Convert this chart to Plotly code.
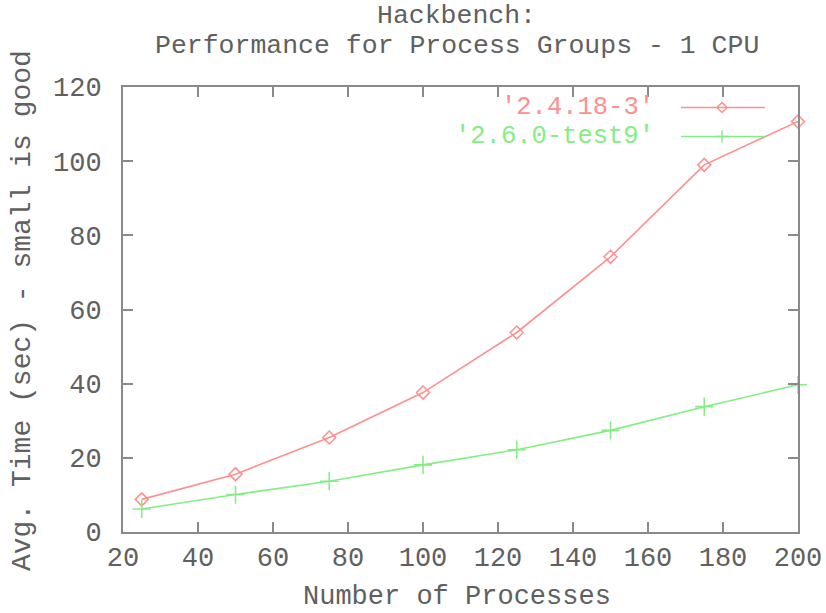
import plotly.graph_objects as go

processes = [25, 50, 75, 100, 125, 150, 175, 200]
kernel_2418 = [8.8, 15.6, 25.5, 37.6, 53.8, 74.2, 99.0, 110.7]
kernel_260 = [6.2, 10.1, 13.7, 18.1, 22.2, 27.4, 33.8, 39.7]
series_names = ["'2.4.18-3'", "'2.6.0-test9'"]
x_ticks = [20, 40, 60, 80, 100, 120, 140, 160, 180, 200]
y_ticks = [0, 20, 40, 60, 80, 100, 120]

RED = "#ff8f8f"
GREEN = "#84ee84"
GRAY = "#8a8a8a"
TXT = "#606060"
FONT = "Liberation Mono"

W, H = 826, 613
L, R, T, B = 123, 28, 87, 81
PW, PH = W - L - R, H - T - B


def px(xp):
    return (xp - L) / PW


def py(yp):
    return (H - B - yp) / PH


fig = go.Figure()
fig.add_trace(go.Scatter(
    x=processes, y=kernel_2418, mode="lines+markers", name=series_names[0],
    line=dict(color=RED, width=1.6),
    marker=dict(symbol="diamond-open", size=10, color=RED, line=dict(width=1.5, color=RED)),
    showlegend=False, cliponaxis=False))
fig.add_trace(go.Scatter(
    x=processes, y=kernel_260, mode="lines+markers", name=series_names[1],
    line=dict(color=GREEN, width=1.6),
    marker=dict(symbol="cross-thin-open", size=13, color=GREEN, line=dict(width=1.6, color=GREEN)),
    showlegend=False, cliponaxis=False))

axis_common = dict(
    showgrid=False, zeroline=False, showline=True, linecolor=GRAY, linewidth=2,
    mirror="ticks", ticks="inside", ticklen=10, tickwidth=2, tickcolor=GRAY,
    tickfont=dict(family=FONT, size=27, color=TXT), automargin=False,
)

fig.update_layout(
    width=W, height=H,
    paper_bgcolor="white", plot_bgcolor="white",
    margin=dict(l=L, r=R, t=T, b=B),
    xaxis=dict(range=[20, 200], tickvals=x_ticks, ticktext=[str(v) for v in x_ticks],
               **axis_common),
    yaxis=dict(range=[0, 120], tickvals=y_ticks, ticktext=[str(v) for v in y_ticks],
               ticklabelstandoff=14, **axis_common),
)

# titles (positions in window pixels)
texts = [
    ("Hackbench:", 456, 16, 0, 26.5),
    ("Performance for Process Groups - 1 CPU", 457, 46, 0, 26.5),
    ("Number of Processes", 457, 597, 0, 27),
    ("Avg. Time (sec) - small is good", 22, 311, -90, 28),
]
for txt, xp, yp, ang, sz in texts:
    fig.add_annotation(x=px(xp), y=py(yp), xref="paper", yref="paper", text=txt,
                       showarrow=False, xanchor="center", yanchor="middle", textangle=ang,
                       font=dict(family=FONT, size=sz, color=TXT))

# custom gnuplot-style legend (text on the left, sample on the right)
legend_rows = [(107.5, series_names[0], RED, "diamond"), (136.5, series_names[1], GREEN, "cross")]
for yp, label, col, sym in legend_rows:
    ypos = py(yp)
    fig.add_annotation(x=px(656), y=ypos, xref="paper", yref="paper", text=label,
                       showarrow=False, xanchor="right", yanchor="middle",
                       font=dict(family=FONT, size=25.5, color=col))
    fig.add_shape(type="line", xref="paper", yref="paper", x0=px(681), x1=px(765),
                  y0=ypos, y1=ypos, line=dict(color=col, width=1.6))
    if sym == "diamond":
        path = "M 0 -5 L 5 0 L 0 5 L -5 0 Z"
    else:
        path = "M -6 0 L 6 0 M 0 -6 L 0 6"
    fig.add_shape(type="path", xref="paper", yref="paper", xsizemode="pixel", ysizemode="pixel",
                  xanchor=px(722), yanchor=ypos, path=path, line=dict(color=col, width=1.5))

fig.write_html("out.html", config={"displayModeBar": False},
               post_script="document.body.style.margin='0';")
